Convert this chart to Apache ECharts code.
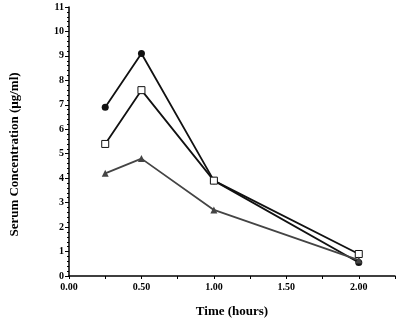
<!DOCTYPE html>
<html>
<head>
<meta charset="utf-8">
<script src="https://cdn.jsdelivr.net/npm/echarts@6/dist/echarts.min.js"></script>
<style>
  html, body { margin: 0; padding: 0; background: #fff; }
  #chart { width: 401px; height: 323px; }
</style>
</head>
<body>
<div id="chart"></div>
<script>
// hours after dose
const times = [0.25, 0.5, 1.0, 2.0];
const circleVals = [6.9, 9.1, 3.9, 0.55];
const squareVals = [5.4, 7.6, 3.9, 0.9];
const triangleVals = [4.2, 4.8, 2.7, 0.65];

const pair = vals => times.map((t, i) => [t, vals[i]]);
const font = '"Liberation Serif", "DejaVu Serif", serif';

const chart = echarts.init(document.getElementById('chart'));
chart.setOption({
  animation: false,
  grid: { left: 63, right: 6, top: 7, bottom: 46 },
  xAxis: {
    type: 'value', min: 0, max: 2.25, interval: 0.25,
    name: 'Time (hours)', nameLocation: 'middle', nameGap: 29,
    nameTextStyle: { fontFamily: font, fontWeight: 'bold', fontSize: 13, color: '#000' },
    axisLine: { lineStyle: { color: '#000', width: 1.5 } },
    axisTick: { length: 3, lineStyle: { color: '#000' } },
    splitLine: { show: false },
    axisLabel: {
      fontFamily: font, fontWeight: 'bold', fontSize: 10, color: '#000', margin: 6,
      formatter: v => (Math.abs(v * 2 - Math.round(v * 2)) < 1e-6 && v < 2.1) ? v.toFixed(2) : ''
    }
  },
  yAxis: {
    type: 'value', min: 0, max: 11, interval: 1,
    name: 'Serum Concentration (µg/ml)', nameLocation: 'middle', nameGap: 48,
    nameTextStyle: { fontFamily: font, fontWeight: 'bold', fontSize: 13, color: '#000', padding: [0, 26, 0, 0] },
    axisLine: { show: true, lineStyle: { color: '#000', width: 1.5 } },
    axisTick: { show: true, length: 4, lineStyle: { color: '#000' } },
    minorTick: { show: true, splitNumber: 5, length: 2, lineStyle: { color: '#000' } },
    splitLine: { show: false },
    axisLabel: { fontFamily: font, fontWeight: 'bold', fontSize: 10, color: '#000', margin: 5 }
  },
  series: [
    {
      type: 'line', data: pair(circleVals), symbol: 'circle', symbolSize: 7,
      lineStyle: { color: '#111', width: 1.8 }, itemStyle: { color: '#111' }
    },
    {
      type: 'line', data: pair(squareVals), symbol: 'rect', symbolSize: 7,
      lineStyle: { color: '#111', width: 1.8 },
      itemStyle: { color: '#fff', borderColor: '#111', borderWidth: 1 }
    },
    {
      type: 'line', data: pair(triangleVals), symbol: 'triangle', symbolSize: 7,
      lineStyle: { color: '#444', width: 1.8 }, itemStyle: { color: '#444' }
    }
  ]
});
</script>
</body>
</html>
